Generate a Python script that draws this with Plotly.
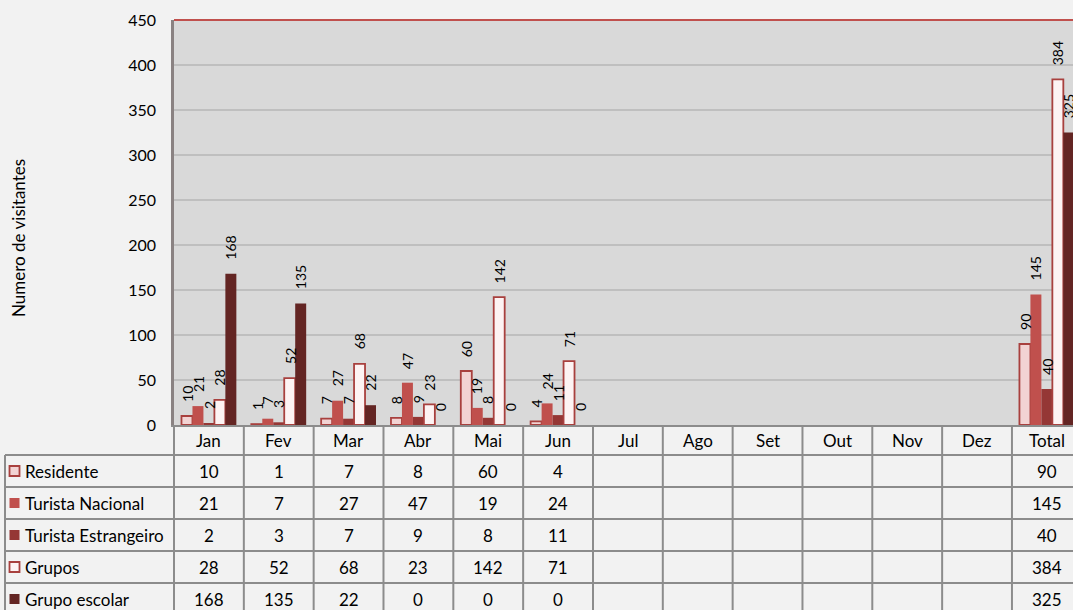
import plotly.graph_objects as go

categories = ["Jan", "Fev", "Mar", "Abr", "Mai", "Jun", "Jul", "Ago", "Set", "Out", "Nov", "Dez", "Total"]
series_names = ["Residente", "Turista Nacional", "Turista Estrangeiro", "Grupos", "Grupo escolar"]
residente = [10, 1, 7, 8, 60, 4, None, None, None, None, None, None, 90]
turista_nacional = [21, 7, 27, 47, 19, 24, None, None, None, None, None, None, 145]
turista_estrangeiro = [2, 3, 7, 9, 8, 11, None, None, None, None, None, None, 40]
grupos = [28, 52, 68, 23, 142, 71, None, None, None, None, None, None, 384]
grupo_escolar = [168, 135, 22, 0, 0, 0, None, None, None, None, None, None, 325]
y_ticks = [0, 50, 100, 150, 200, 250, 300, 350, 400, 450]

series = [residente, turista_nacional, turista_estrangeiro, grupos, grupo_escolar]
fills = ["#f2d3d3", "#c0504d", "#953735", "#fdf3f3", "#632523"]
borders = ["#a8403e", "#c0504d", "#953735", "#a8403e", "#632523"]
border_w = [1.8, 0, 0, 1.8, 0]

FONT = "Lato"
W, H = 1073, 610
ML, MT, MB = 174, 20, 185
plot_w = W - ML
plot_h = H - MT - MB
cell = 69.83
X0 = -0.5
X1 = X0 + plot_w / cell
bargap = 15 / 70
bw = (1 - bargap) / 5

xs = list(range(len(categories)))

fig = go.Figure()
for k, (name, vals) in enumerate(zip(series_names, series)):
    fig.add_trace(go.Bar(
        x=xs, y=vals, name=name,
        marker=dict(color=fills[k], line=dict(color=borders[k], width=border_w[k])),
        showlegend=False, hoverinfo="skip",
    ))

def py(p):
    # pixel y -> paper y
    return (H - MB - p) / plot_h

def px(p):
    return (p - ML) / plot_w

ann = []
shapes = []

# data labels
for k, vals in enumerate(series):
    for i, v in enumerate(vals):
        if v is None:
            continue
        ann.append(dict(x=i + (k - 2) * bw, y=v, xref="x", yref="y", text=str(v),
                        textangle=-90, showarrow=False, yanchor="bottom", xanchor="center",
                        yshift=12, font=dict(family=FONT, size=14, color="#000")))

# table geometry
header_top = H - MB
header_bot = header_top + 30
row_h = 32
line_col = "#8c8c8c"
TF = 17

# header labels
for i, c in enumerate(categories):
    ann.append(dict(x=i, y=py((header_top + header_bot) / 2), xref="x", yref="paper", text=c,
                    xanchor="center", yanchor="middle",
                    showarrow=False, font=dict(family=FONT, size=TF, color="#000")))

# vertical lines in table
for i in range(len(categories) + 1):
    xp = (i - 0.5 - X0) / (X1 - X0)
    shapes.append(dict(type="line", xref="paper", yref="paper", x0=xp, x1=xp,
                       y0=py(header_top), y1=py(H + 5), line=dict(color=line_col, width=2)))
# left column border
shapes.append(dict(type="line", xref="paper", yref="paper", x0=px(5), x1=px(5),
                   y0=py(header_bot), y1=py(H + 5), line=dict(color=line_col, width=2)))
# horizontal lines
for r in range(len(series_names)):
    yy = py(header_bot + r * row_h)
    shapes.append(dict(type="line", xref="paper", yref="paper", x0=px(5), x1=1.0,
                       y0=yy, y1=yy, line=dict(color=line_col, width=2)))

# rows
for r, (name, vals) in enumerate(zip(series_names, series)):
    yc = header_bot + r * row_h + row_h / 2
    shapes.append(dict(type="rect", xref="paper", yref="paper",
                       x0=px(9.5), x1=px(19.5), y0=py(yc - 5), y1=py(yc + 5),
                       fillcolor=fills[r], line=dict(color=borders[r], width=1.8 if border_w[r] else 0)))
    ann.append(dict(x=px(23), y=py(yc), xref="paper", yref="paper", text=name,
                    xanchor="left", yanchor="middle",
                    showarrow=False, font=dict(family=FONT, size=TF, color="#000")))
    for i, v in enumerate(vals):
        if v is None:
            continue
        ann.append(dict(x=i, y=py(yc), xref="x", yref="paper", text=str(v),
                        xanchor="center", yanchor="middle",
                        showarrow=False, font=dict(family=FONT, size=TF, color="#000")))

# top border of plot area
shapes.append(dict(type="line", xref="paper", yref="paper", x0=0, x1=1, y0=1, y1=1,
                   line=dict(color="#c0504d", width=2)))

# y axis title
ann.append(dict(x=px(18), y=py(238), xref="paper", yref="paper", text="Numero de visitantes",
                textangle=-90, xanchor="center", yanchor="middle",
                showarrow=False, font=dict(family=FONT, size=17, color="#000")))

fig.update_layout(
    width=W, height=H,
    margin=dict(l=ML, r=0, t=MT, b=MB, pad=0),
    paper_bgcolor="#f2f2f2", plot_bgcolor="#d9d9d9",
    barmode="group", bargap=bargap, bargroupgap=0,
    annotations=ann, shapes=shapes,
    xaxis=dict(range=[X0, X1], showticklabels=False, showgrid=False, zeroline=False,
               showline=True, linecolor=line_col, linewidth=2, ticks=""),
    yaxis=dict(range=[0, 450], tickvals=y_ticks, showgrid=True, gridcolor="#bfbfbf", gridwidth=2,
               zeroline=False, showline=True, linecolor="#8a8282", linewidth=2.5,
               ticks="", ticklabelstandoff=12,
               tickfont=dict(family=FONT, size=16, color="#000")),
    font=dict(family=FONT),
)

fig.write_html("out.html", config={"displayModeBar": False},
               post_script="document.body.style.margin='0';document.body.style.overflow='hidden';")
